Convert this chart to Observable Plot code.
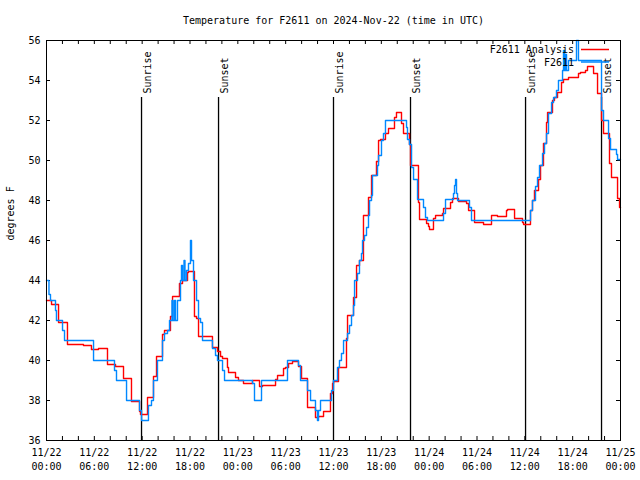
<!DOCTYPE html>
<html><head><meta charset="utf-8">
<script src="https://cdn.jsdelivr.net/npm/d3@7"></script>
<script src="https://cdn.jsdelivr.net/npm/@observablehq/plot@0.6"></script>
<style>body{margin:0;background:#fff}</style>
</head><body><div id="chart"></div>
<script>
const title = "Temperature for F2611 on 2024-Nov-22 (time in UTC)";
const yLabel = "degrees F";
const startTime = "2024-11-22T00:00:00Z";
const seriesNames = ["F2611 Analysis", "F2611"];
const seriesColors = ["#ff0000", "#0088ff"];
// [hours since start, °F] step points
const analysis = [[0,43],[0.63,42.8],[1.51,41.9],[2.63,40.8],[4.64,40.75],[5.64,40.55],[6.52,40.6],[7.65,39.8],[8.66,39.7],[9.66,39.1],[10.66,37.95],[11.67,37.45],[11.79,37.3],[12.67,38.15],[13.42,39.2],[13.80,40.2],[14.55,41.3],[14.80,41.5],[15.55,42.2],[15.81,43.2],[16.68,43.85],[17.06,44.0],[17.69,44.4],[17.81,44.45],[18.56,42.2],[18.82,42.1],[19.07,41.2],[20.82,40.65],[21.45,40.45],[21.83,40.2],[22.08,40.1],[22.70,39.65],[22.83,39.4],[23.71,39.15],[24.08,39.0],[24.71,38.85],[25.84,39.0],[26.72,38.7],[27.10,38.75],[28.73,39.05],[28.98,39.25],[29.73,39.6],[29.98,39.65],[30.36,39.85],[30.86,39.95],[31.61,39.7],[31.99,39.1],[32.74,37.65],[33.74,37.15],[34.12,37.2],[34.75,37.45],[35.62,38.35],[35.88,38.85],[36.00,38.95],[36.63,39.65],[37.63,41.1],[37.76,42.25],[38.51,43.15],[38.89,44.75],[39.26,45.0],[39.76,47.25],[40.39,48.15],[40.77,49.25],[41.39,49.95],[41.65,51.0],[41.90,51.05],[42.52,51.35],[42.90,51.6],[43.65,52.15],[43.90,52.4],[44.53,51.85],[44.78,51.35],[45.53,50.8],[45.66,49.75],[46.66,47.9],[46.79,47.05],[47.67,46.85],[47.92,46.7],[48.04,46.55],[48.54,47.1],[48.80,47.25],[49.67,47.35],[49.80,47.6],[50.68,47.9],[50.93,48.1],[51.68,47.95],[52.69,47.85],[52.94,47.5],[53.69,46.9],[54.82,46.8],[55.82,47.25],[56.57,47.2],[57.70,47.5],[57.83,47.55],[58.71,47.1],[59.71,46.9],[59.84,46.8],[60.71,47.5],[60.96,48],[61.21,48.5],[61.72,49.05],[61.97,49.75],[62.34,50.85],[62.72,51.9],[62.85,52.4],[63.47,53.0],[63.72,53.15],[64.10,53.4],[64.60,53.9],[64.85,54.05],[65.48,54.15],[66.73,54.35],[66.98,54.4],[67.61,54.5],[67.86,54.7],[68.62,54.35],[69.12,53.35],[69.62,52],[69.87,51.35],[70.62,49.85],[70.87,49.15],[71.63,48.1],[71.88,47.65],[72,47.65]];
const observed = [[0,44],[0.31,43.3],[0.50,43],[1.13,42.5],[1.25,42],[2.01,41.5],[2.26,41],[5.90,40],[8.53,39.5],[8.78,39],[10.04,38],[11.67,37.5],[11.92,37],[12.79,37.75],[13.17,38],[13.42,39],[13.92,40],[14.55,41],[14.80,41.35],[15.18,41.5],[15.43,42],[15.74,43],[15.87,42],[16.06,43],[16.18,42],[16.43,43],[16.81,44],[16.93,44.75],[17.06,44],[17.25,45],[17.37,44],[17.56,44.5],[17.81,44.85],[18.06,46],[18.19,45],[18.44,44],[18.82,43],[19.07,42.1],[19.32,41.9],[19.57,41],[20.82,40.6],[21.20,40.25],[21.45,40],[22.08,39.5],[22.33,39],[25.84,38.85],[26.09,38],[26.97,39],[30.23,40],[31.61,39.75],[31.86,39],[32.74,38.5],[33.12,38],[33.74,37.5],[33.99,37],[34.12,37.5],[34.37,38],[35.75,38.5],[36.00,39],[36.50,39.65],[36.75,40],[37.00,40.35],[37.26,41],[37.76,41.35],[38.01,41.75],[38.26,42.25],[38.51,42.75],[38.64,44],[39.01,44.35],[39.26,45],[39.51,45.35],[39.64,46],[39.89,46.25],[40.14,46.65],[40.39,47.25],[40.52,48],[40.77,48.25],[40.89,49.25],[41.52,49.75],[41.65,50.25],[42.02,51],[42.27,51.35],[42.52,52],[45.16,51.65],[45.28,51.05],[45.53,50.8],[45.79,49.65],[46.04,49.05],[46.54,48.05],[47.29,47.65],[47.54,47.15],[47.79,47],[49.80,47.35],[50.05,48.05],[51.05,48.35],[51.18,48.75],[51.31,49.05],[51.43,48.35],[51.56,48],[53.06,47.65],[53.31,47],[60.71,47.5],[60.96,48],[61.34,48.7],[61.59,49.15],[61.84,49.75],[62.22,50.35],[62.47,50.85],[62.72,51.35],[62.97,52.35],[63.35,52.9],[63.60,53.15],[63.97,53.5],[64.22,54],[64.73,54.5],[64.85,55.5],[64.98,54.5],[65.10,55.3],[65.23,54.5],[65.48,55],[66.48,56],[66.73,55],[69.62,52.5],[69.87,52],[70.50,51.1],[70.75,50.55],[71.50,50.3],[71.63,50.05],[72,50.05]];
const sunHours = [11.92, 21.58, 36.0, 45.66, 60.09, 69.62];
const sunLabels = ["Sunrise", "Sunset", "Sunrise", "Sunset", "Sunrise", "Sunset"];
const yTicks = [36, 38, 40, 42, 44, 46, 48, 50, 52, 54, 56];
const xTickHours = [0, 6, 12, 18, 24, 30, 36, 42, 48, 54, 60, 66, 72];
const xMinorHours = d3.range(0, 73, 2);

const t0 = Date.parse(startTime);
const toDate = h => new Date(t0 + h * 3600e3);
const rows = [
  ...analysis.map(([h, v]) => ({time: toDate(h), temp: v, series: seriesNames[0]})),
  ...observed.map(([h, v]) => ({time: toDate(h), temp: v, series: seriesNames[1]}))
];
const sun = sunHours.map((h, i) => ({time: toDate(h), label: sunLabels[i]}));
const FONT = "DejaVu Sans Mono";

function legend(index, scales, values, dims) {
  const g = d3.create("svg:g").attr("font-family", FONT).attr("font-size", 10).attr("fill", "black");
  const xr = dims.width - dims.marginRight;
  seriesNames.forEach((name, i) => {
    const y = dims.marginTop + 9.5 + i * 12.5;
    g.append("text").attr("x", xr - 46).attr("y", y).attr("dy", "0.35em").attr("text-anchor", "end").text(name);
    g.append("line").attr("x1", xr - 39).attr("x2", xr - 11).attr("y1", y).attr("y2", y)
      .attr("stroke", seriesColors[i]).attr("stroke-width", 1.5);
  });
  return g.node();
}

const chart = Plot.plot({
  width: 640, height: 480,
  marginTop: 40, marginRight: 20, marginBottom: 40, marginLeft: 46,
  style: {fontFamily: FONT, fontSize: "10px", color: "black", background: "white"},
  x: {type: "utc", domain: [toDate(0), toDate(72)]},
  y: {domain: [36, 56]},
  color: {domain: seriesNames, range: seriesColors},
  marks: [
    Plot.axisY({ticks: yTicks, tickSize: 0, tickPadding: 6, label: null, tickFormat: d => String(d)}),
    Plot.axisX({ticks: xTickHours.map(toDate), tickSize: 0, tickPadding: 6, label: null,
      tickFormat: d3.utcFormat("%m/%d\n%H:%M"), lineHeight: 1.4}),
    Plot.ruleX(xMinorHours.map(toDate), {insetTop: 396, stroke: "black"}),
    Plot.ruleX(xMinorHours.map(toDate), {insetBottom: 396, stroke: "black"}),
    Plot.ruleY(yTicks, {insetRight: 570, stroke: "black"}),
    Plot.ruleY(yTicks, {insetLeft: 570, stroke: "black"}),
    Plot.ruleX(sun, {x: "time", insetTop: 57, stroke: "black", strokeWidth: 1.3}),
    Plot.text(sun, {x: "time", text: "label", frameAnchor: "top", dy: 53, dx: 2, rotate: -90, textAnchor: "start"}),
    Plot.line(rows, {x: "time", y: "temp", z: "series", stroke: "series", curve: "step-after", strokeWidth: 1.4}),
    Plot.frame({stroke: "black"}),
    Plot.text([title], {frameAnchor: "top", dy: -20, lineAnchor: "middle"}),
    Plot.text([yLabel], {frameAnchor: "left", dx: -36, rotate: -90}),
    legend
  ]
});
document.getElementById("chart").append(chart);
</script>
</body></html>
